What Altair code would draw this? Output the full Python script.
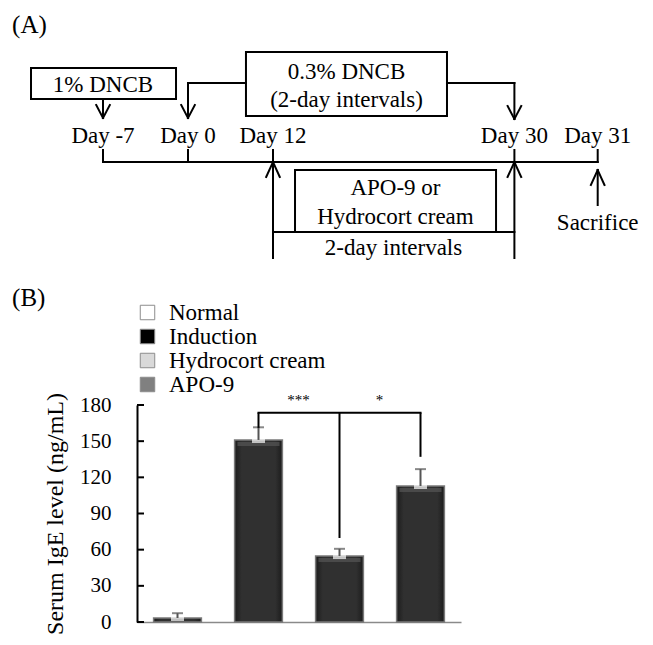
import altair as alt
import pandas as pd

FONT = "Liberation Serif"

# ---------------- Panel B data ----------------
groups = ["Normal", "Induction", "Hydrocort cream", "APO-9"]
ige_mean = [3.3, 151.0, 54.7, 112.8]
ige_err = [4.0, 10.5, 6.0, 14.0]
legend_colors = ["#ffffff", "#000000", "#d9d9d9", "#808080"]
y_ticks = [0, 30, 60, 90, 120, 150, 180]

bracket_groups = ["Induction", "Hydrocort cream", "APO-9"]
bracket_bottom = [161.0, 69.7, 137.0]
bracket_top = 173.6
star_text = ["***", "*"]
star_group = ["Induction", "Hydrocort cream"]
star_level = 184.0

# ---------------- Panel A data (schematic) ----------------
days = ["Day -7", "Day 0", "Day 12", "Day 30", "Day 31"]
day_slot = [0, 1, 2, 4.84, 5.82]          # schematic position on the timeline

box_x1 = [-0.847, 1.682, 2.259]
box_x2 = [0.859, 4.047, 4.624]
box_y1 = [68, 52, 170]
box_y2 = [99, 116, 232]

text_labels = ["1% DNCB", "0.3% DNCB", "(2-day intervals)", "APO-9 or",
               "Hydrocort cream", "2-day intervals", "Sacrifice"]
text_x = [0.0, 2.865, 2.865, 3.441, 3.441, 3.418, 5.82]
text_y = [85, 72, 100, 188, 217, 248, 223]

panel_labels = ["(A)", "(B)"]
panel_x = [-1.07, -1.07]
panel_y = [25, 298]

# levels (layout units)
LABEL_Y, LINE_Y, TICK_TOP = 136, 162, 150

# ---- build segments for panel A ----
segs = []
segs.append((day_slot[0], LINE_Y, day_slot[-1], LINE_Y))           # timeline
for s in day_slot:
    segs.append((s, TICK_TOP, s, LINE_Y))                            # ticks
segs.append((0, 99, 0, 118))                                         # 1% arrow
segs += [(1.682, 83, 1.0, 83), (1.0, 83, 1.0, 118)]                  # left connector
segs += [(4.047, 83, 4.84, 83), (4.84, 83, 4.84, 119)]               # right connector
segs += [(2, LINE_Y, 2, 258), (4.84, LINE_Y, 4.84, 258)]             # treatment arrows
segs.append((5.82, 170, 5.82, 205))                                  # sacrifice arrow
segs.append((2, 232, 4.84, 232))                                     # interval line
W = 0.08
for s, tip in [(0, 118), (1.0, 118), (4.84, 119)]:                   # down heads
    segs += [(s - W, tip - 13, s, tip), (s + W, tip - 13, s, tip)]
for s, tip in [(2, LINE_Y), (4.84, LINE_Y), (5.82, 170)]:            # up heads
    segs += [(s - W, tip + 15, s, tip), (s + W, tip + 15, s, tip)]
seg_df = pd.DataFrame(segs, columns=["x", "y", "x2", "y2"])

box_df = pd.DataFrame({"x": box_x1, "x2": box_x2, "y": box_y1, "y2": box_y2})
txt_df = pd.DataFrame({"label": text_labels + days,
                       "x": text_x + day_slot,
                       "y": text_y + [LABEL_Y] * len(days)})
pan_df = pd.DataFrame({"label": panel_labels, "x": panel_x, "y": panel_y})

xsA = alt.Scale(domain=[0.4, 4.2118], nice=False, zero=False)
ysA = alt.Scale(domain=[405, 622], reverse=True, nice=False, zero=False)

segA = alt.Chart(seg_df).mark_rule(color="black", strokeWidth=2, strokeCap="square").encode(
    x=alt.X("x:Q", scale=xsA, axis=None), x2="x2:Q",
    y=alt.Y("y:Q", scale=ysA, axis=None), y2="y2:Q")
boxA = alt.Chart(box_df).mark_rect(fill="white", stroke="black", strokeWidth=2).encode(
    x=alt.X("x:Q", scale=xsA, axis=None), x2="x2:Q",
    y=alt.Y("y:Q", scale=ysA, axis=None), y2="y2:Q")
txtA = alt.Chart(txt_df).mark_text(font=FONT, fontSize=23, color="black",
                                   align="center", baseline="middle").encode(
    x=alt.X("x:Q", scale=xsA, axis=None), y=alt.Y("y:Q", scale=ysA, axis=None), text="label:N")
panA = alt.Chart(pan_df).mark_text(font=FONT, fontSize=25, color="black",
                                   align="left", baseline="middle").encode(
    x=alt.X("x:Q", scale=xsA, axis=None), y=alt.Y("y:Q", scale=ysA, axis=None), text="label:N")
chartA = alt.layer(boxA, segA, txtA, panA)

# ---------------- Panel B ----------------
bdf = pd.DataFrame({"group": groups, "value": ige_mean, "err": ige_err})
bdf["hi"] = bdf["value"] + bdf["err"]

xsB = alt.Scale(domain=groups, paddingInner=0.41, paddingOuter=0.205)
ysB = alt.Scale(domain=[0, 180], nice=False, zero=True)
xaxB = alt.Axis(orient="bottom", title=None, labels=False, ticks=False, grid=False,
                domain=True, domainColor="#8a8a8a", domainWidth=1.5)
yaxB = alt.Axis(orient="left", values=y_ticks, ticks=False, grid=False, labels=True,
                domain=True, domainColor="black", domainWidth=2,
                labelFont=FONT, labelFontSize=21, labelColor="black", labelPadding=26,
                title="Serum IgE level (ng/mL)", titleFont=FONT, titleFontSize=24,
                titleFontWeight="normal", titleColor="black", titlePadding=12)

def X(f="group"):
    return alt.X(f + ":N", sort=groups, scale=xsB, axis=xaxB)

def Y(f):
    return alt.Y(f + ":Q", scale=ysB, axis=yaxB)

grad = alt.LinearGradient(gradient="linear", x1=0, x2=1, y1=0, y2=0, stops=[
    alt.GradientStop(color="#1c1c1c", offset=0),
    alt.GradientStop(color="#303030", offset=0.15),
    alt.GradientStop(color="#303030", offset=0.85),
    alt.GradientStop(color="#1c1c1c", offset=1)])

# white cover over the top and right edges of the plot frame
cover_top = alt.Chart(pd.DataFrame({"t": [180]})).mark_rule(color="white", strokeWidth=3).encode(
    y=Y("t"), x=alt.value(2), x2=alt.value(326))
cover_right = alt.Chart(pd.DataFrame({"t": [180]})).mark_rule(color="white", strokeWidth=3).encode(
    x=alt.value(324), y=alt.value(-2), y2=alt.value(214.5))

bars = alt.Chart(bdf).mark_bar(fill=grad, stroke="#7a7a7a", strokeWidth=1.5).encode(
    x=X(), y=Y("value"))
bevel = alt.Chart(bdf).transform_filter("datum.value > 10").mark_tick(
    color="#555555", size=42, thickness=4, yOffset=4).encode(x=X(), y=Y("value"))
notch = alt.Chart(bdf).mark_tick(color="white", size=13, thickness=4, yOffset=1).encode(
    x=X(), y=Y("value"))
err = alt.Chart(bdf).mark_rule(color="#555555", strokeWidth=2).encode(
    x=X(), y=Y("value"), y2="hi:Q")
cap = alt.Chart(bdf).mark_tick(color="#555555", size=11, thickness=2).encode(
    x=X(), y=Y("hi"))

br_df = pd.DataFrame({"group": bracket_groups, "bottom": bracket_bottom,
                      "top": [bracket_top] * len(bracket_groups)})
br_v = alt.Chart(br_df).mark_rule(color="black", strokeWidth=2).encode(
    x=X(), y=Y("bottom"), y2="top:Q")
br_h = alt.Chart(br_df[br_df.group != "Hydrocort cream"]).mark_line(
    color="black", strokeWidth=2, strokeCap="square").encode(x=X(), y=Y("top"))
st_df = pd.DataFrame({"group": star_group, "label": star_text, "lvl": [star_level] * 2})
stars = alt.Chart(st_df).mark_text(font=FONT, fontSize=15, color="black", dx=40,
                                   baseline="middle").encode(x=X(), y=Y("lvl"), text="label:N")

tk_df = pd.DataFrame({"t": y_ticks})
inticks = alt.Chart(tk_df).mark_rule(color="black", strokeWidth=2).encode(
    y=Y("t"), x=alt.value(0), x2=alt.value(7))

leg = alt.Chart(bdf).mark_point(shape="square", filled=True, opacity=0).encode(
    x=X(), y=Y("value"),
    color=alt.Color("group:N", sort=groups,
                    scale=alt.Scale(domain=groups, range=legend_colors),
                    legend=alt.Legend(title=None, orient="none", legendX=-1, legendY=-104,
                                      symbolType="square", symbolSize=210, symbolOpacity=1,
                                      symbolStrokeColor="#8c8c8c", symbolStrokeWidth=1,
                                      labelFont=FONT, labelFontSize=23, labelColor="black",
                                      labelOffset=10, rowPadding=0, padding=0)))

chartB = alt.layer(cover_top, cover_right, bars, bevel, notch, err, cap,
                   br_v, br_h, stars, inticks, leg)

chart = alt.layer(chartA, chartB).resolve_scale(
    x="independent", y="independent", color="independent"
).properties(
    width=324, height=217,
    autosize=alt.AutoSizeParams(type="none"),
    padding={"left": 129, "top": 397, "right": 184, "bottom": 15},
    background="white",
).configure(
    view=alt.ViewConfig(stroke="transparent", strokeWidth=0, strokeOpacity=0),
    axis=alt.AxisConfig(domain=False, labels=False, ticks=False, grid=False),
    style={"cell": {"stroke": "transparent", "strokeWidth": 0}},
)

chart.save("out.html", embed_options={"renderer": "svg", "actions": False})
